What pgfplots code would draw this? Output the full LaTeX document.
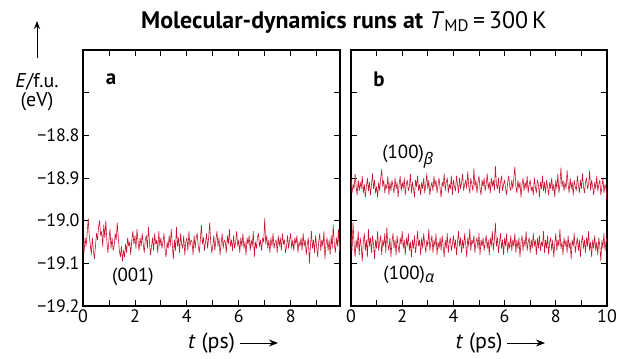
\documentclass[border=0pt]{standalone}
\usepackage{fontspec}
\setmainfont{PT Sans}
\newfontfamily\grk{Open Sans}
\usepackage{pgfplots}
\usepackage{pgfplotstable}
\pgfplotsset{compat=1.18}
\usetikzlibrary{arrows.meta}
\definecolor{mdred}{RGB}{200,22,48}

\pgfplotstableread{
t a beta alpha
0.00 -19.045 -18.900 -19.030
0.04 -19.075 -18.935 -19.070
0.08 -19.040 -18.915 -19.005
0.12 -19.060 -18.925 -19.055
0.16 -19.030 -18.890 -19.085
0.20 -18.995 -18.920 -19.045
0.24 -19.035 -18.940 -19.065
0.28 -19.055 -18.905 -19.025
0.32 -19.080 -18.930 -19.080
0.36 -19.040 -18.910 -19.040
0.40 -19.070 -18.925 -19.060
0.44 -19.090 -18.895 -19.095
0.48 -19.060 -18.935 -19.050
0.52 -19.030 -18.915 -19.030
0.56 -19.045 -18.945 -19.070
0.60 -19.015 -18.920 -19.045
0.64 -19.000 -18.900 -19.085
0.68 -19.035 -18.930 -19.020
0.72 -19.025 -18.910 -19.060
0.76 -19.060 -18.940 -19.040
0.80 -19.010 -18.915 -19.075
0.84 -19.040 -18.890 -19.035
0.88 -19.000 -18.925 -19.055
0.92 -19.050 -18.905 -19.090
0.96 -19.075 -18.935 -19.045
1.00 -19.045 -18.920 -19.065
1.04 -19.020 -18.945 -19.025
1.08 -19.065 -18.910 -19.070
1.12 -19.040 -18.930 -19.050
1.16 -19.070 -18.900 -19.035
1.20 -19.060 -18.880 -19.080
1.24 -19.030 -18.920 -19.045
1.28 -19.045 -18.905 -19.060
1.32 -19.005 -18.935 -19.030
1.36 -19.040 -18.915 -19.075
1.40 -19.070 -18.925 -19.015
1.44 -19.085 -18.895 -19.055
1.48 -19.060 -18.940 -19.070
1.52 -19.095 -18.910 -19.040
1.56 -19.070 -18.930 -19.085
1.60 -19.085 -18.905 -19.050
1.64 -19.055 -18.920 -19.030
1.68 -19.075 -18.935 -19.065
1.72 -19.040 -18.900 -19.045
1.76 -19.060 -18.925 -19.080
1.80 -19.050 -18.910 -19.035
1.84 -19.080 -18.945 -19.060
1.88 -19.045 -18.915 -19.075
1.92 -19.025 -18.895 -19.040
1.96 -19.055 -18.930 -19.055
2.00 -19.035 -18.910 -19.025
2.04 -19.065 -18.925 -19.065
2.08 -19.020 -18.900 -19.045
2.12 -19.050 -18.940 -19.080
2.16 -19.070 -18.915 -19.040
2.20 -19.040 -18.905 -19.060
2.24 -19.060 -18.930 -19.030
2.28 -19.030 -18.920 -19.070
2.32 -19.055 -18.890 -19.050
2.36 -19.075 -18.935 -19.085
2.40 -19.045 -18.910 -19.045
2.44 -19.035 -18.925 -19.065
2.48 -19.065 -18.945 -19.035
2.52 -19.015 -18.905 -19.075
2.56 -19.050 -18.920 -19.055
2.60 -19.080 -18.895 -19.025
2.64 -19.060 -18.930 -19.060
2.68 -19.040 -18.915 -19.045
2.72 -19.070 -18.940 -19.080
2.76 -19.030 -18.910 -19.040
2.80 -19.055 -18.925 -19.065
2.84 -19.045 -18.900 -19.030
2.88 -19.075 -18.935 -19.055
2.92 -19.025 -18.915 -19.075
2.96 -19.060 -18.890 -19.045
3.00 -19.040 -18.925 -19.060
3.04 -19.065 -18.905 -19.020
3.08 -19.050 -18.940 -19.070
3.12 -19.030 -18.920 -19.050
3.16 -19.070 -18.910 -19.035
3.20 -19.085 -18.930 -19.075
3.24 -19.050 -18.895 -19.045
3.28 -19.065 -18.920 -19.060
3.32 -19.035 -18.905 -19.030
3.36 -19.060 -18.935 -19.080
3.40 -19.020 -18.915 -19.050
3.44 -19.055 -18.900 -19.065
3.48 -19.090 -18.925 -19.040
3.52 -19.045 -18.945 -19.070
3.56 -19.070 -18.910 -19.035
3.60 -19.015 -18.920 -19.060
3.64 -19.060 -18.890 -19.085
3.68 -19.040 -18.930 -19.045
3.72 -19.075 -18.910 -19.065
3.76 -19.030 -18.900 -19.030
3.80 -19.055 -18.935 -19.075
3.84 -19.065 -18.915 -19.050
3.88 -19.035 -18.925 -19.040
3.92 -19.080 -18.895 -19.070
3.96 -19.050 -18.940 -19.055
4.00 -19.040 -18.905 -19.035
4.04 -19.070 -18.920 -19.065
4.08 -19.025 -18.930 -19.045
4.12 -19.060 -18.895 -19.080
4.16 -19.045 -18.915 -19.050
4.20 -19.050 -18.935 -19.025
4.24 -19.080 -18.900 -19.060
4.28 -19.035 -18.925 -19.040
4.32 -19.065 -18.910 -19.075
4.36 -19.040 -18.890 -19.045
4.40 -19.030 -18.930 -19.065
4.44 -19.060 -18.915 -19.030
4.48 -19.075 -18.905 -19.055
4.52 -19.045 -18.925 -19.085
4.56 -19.010 -18.885 -19.040
4.60 -19.055 -18.920 -19.060
4.64 -19.040 -18.935 -19.020
4.68 -19.070 -18.900 -19.070
4.72 -19.050 -18.915 -19.045
4.76 -19.030 -18.930 -19.055
4.80 -19.065 -18.878 -19.035
4.84 -19.040 -18.920 -19.075
4.88 -19.005 -18.905 -19.050
4.92 -19.050 -18.935 -19.040
4.96 -19.075 -18.910 -19.065
5.00 -19.060 -18.895 -19.030
5.04 -19.035 -18.925 -19.080
5.08 -19.070 -18.940 -19.045
5.12 -19.045 -18.905 -19.060
5.16 -19.025 -18.920 -19.040
5.20 -19.060 -18.900 -19.070
5.24 -19.040 -18.930 -19.050
5.28 -19.080 -18.915 -19.035
5.32 -19.055 -18.890 -19.065
5.36 -19.030 -18.925 -19.045
5.40 -19.065 -18.910 -19.080
5.44 -19.045 -18.935 -19.040
5.48 -19.050 -18.900 -19.060
5.52 -19.075 -18.920 -19.025
5.56 -19.035 -18.905 -19.070
5.60 -19.055 -18.930 -19.045
5.64 -19.020 -18.872 -19.005
5.68 -19.060 -18.915 -19.060
5.72 -19.045 -18.925 -19.040
5.76 -19.070 -18.900 -19.075
5.80 -19.035 -18.935 -19.050
5.84 -19.065 -18.910 -19.030
5.88 -19.050 -18.895 -19.065
5.92 -19.025 -18.930 -19.045
5.96 -19.060 -18.915 -19.080
6.00 -19.045 -18.905 -19.040
6.04 -19.075 -18.925 -19.060
6.08 -19.040 -18.940 -19.030
6.12 -19.060 -18.910 -19.075
6.16 -19.030 -18.895 -19.050
6.20 -19.065 -18.920 -19.065
6.24 -19.050 -18.930 -19.035
6.28 -19.080 -18.905 -19.070
6.32 -19.040 -18.925 -19.045
6.36 -19.055 -18.900 -19.060
6.40 -19.035 -18.874 -19.030
6.44 -19.070 -18.920 -19.075
6.48 -19.045 -18.935 -19.045
6.52 -19.060 -18.905 -19.065
6.56 -19.025 -18.925 -19.040
6.60 -19.085 -18.910 -19.085
6.64 -19.050 -18.945 -19.050
6.68 -19.065 -18.915 -19.035
6.72 -19.040 -18.900 -19.070
6.76 -19.030 -18.930 -19.045
6.80 -19.060 -18.910 -19.060
6.84 -19.045 -18.925 -19.025
6.88 -19.070 -18.895 -19.070
6.92 -19.040 -18.935 -19.050
6.96 -19.050 -18.915 -19.040
7.00 -18.995 -18.905 -19.075
7.04 -19.055 -18.930 -19.045
7.08 -19.035 -18.920 -19.065
7.12 -19.065 -18.940 -19.030
7.16 -19.045 -18.900 -19.060
7.20 -19.075 -18.920 -19.045
7.24 -19.040 -18.935 -19.080
7.28 -19.060 -18.905 -19.040
7.32 -19.030 -18.915 -19.065
7.36 -19.065 -18.945 -19.035
7.40 -19.050 -18.910 -19.070
7.44 -19.045 -18.925 -19.050
7.48 -19.075 -18.895 -19.060
7.52 -19.035 -18.930 -19.025
7.56 -19.060 -18.910 -19.075
7.60 -19.040 -18.935 -19.045
7.64 -19.070 -18.905 -19.065
7.68 -19.030 -18.920 -19.035
7.72 -19.055 -18.940 -19.080
7.76 -19.045 -18.910 -19.050
7.80 -19.075 -18.925 -19.040
7.84 -19.060 -18.900 -19.070
7.88 -19.035 -18.930 -19.045
7.92 -19.065 -18.915 -19.085
7.96 -19.045 -18.945 -19.055
8.00 -19.030 -18.905 -19.030
8.04 -19.065 -18.925 -19.070
8.08 -19.045 -18.890 -19.045
8.12 -19.070 -18.935 -19.060
8.16 -19.040 -18.915 -19.020
8.20 -19.055 -18.876 -19.065
8.24 -19.035 -18.920 -19.050
8.28 -19.075 -18.905 -19.080
8.32 -19.050 -18.930 -19.040
8.36 -19.060 -18.910 -19.060
8.40 -19.040 -18.925 -19.045
8.44 -19.070 -18.882 -19.075
8.48 -19.030 -18.915 -19.035
8.52 -19.060 -18.935 -19.065
8.56 -19.045 -18.900 -19.050
8.60 -19.080 -18.925 -19.090
8.64 -19.055 -18.910 -19.045
8.68 -19.040 -18.940 -19.060
8.72 -19.100 -18.905 -19.030
8.76 -19.060 -18.920 -19.075
8.80 -19.025 -18.930 -19.055
8.84 -19.065 -18.895 -19.040
8.88 -19.045 -18.915 -19.070
8.92 -19.075 -18.935 -19.045
8.96 -19.035 -18.905 -19.085
9.00 -19.060 -18.925 -19.050
9.04 -19.085 -18.890 -19.035
9.08 -19.050 -18.920 -19.065
9.12 -19.030 -18.935 -19.045
9.16 -19.070 -18.910 -19.075
9.20 -19.045 -18.900 -19.040
9.24 -19.060 -18.925 -19.060
9.28 -19.025 -18.915 -19.025
9.32 -19.090 -18.884 -19.070
9.36 -19.055 -18.930 -19.050
9.40 -19.040 -18.905 -19.085
9.44 -19.070 -18.920 -19.045
9.48 -19.045 -18.940 -19.065
9.52 -19.080 -18.910 -19.035
9.56 -19.035 -18.925 -19.070
9.60 -19.065 -18.895 -19.050
9.64 -19.010 -18.930 -19.080
9.68 -19.055 -18.915 -19.040
9.72 -19.075 -18.905 -19.060
9.76 -19.040 -18.940 -19.095
9.80 -19.060 -18.920 -19.045
9.84 -19.020 -18.900 -19.065
9.88 -19.070 -18.935 -19.030
9.92 -19.045 -18.915 -19.070
9.96 -19.055 -18.925 -19.050
10.00 -19.040 -18.950 -19.040
}\mddata

\pgfplotsset{
  mdax/.style={
    anchor=south west,
    scale only axis,
    height=256bp,
    ymin=-19.2, ymax=-18.6,
    ytick={-19.2,-19.1,-19.0,-18.9,-18.8,-18.7,-18.6},
    xtick={0,2,4,6,8,10},
    minor xtick={1,3,5,7,9},
    xmin=0,
    tick align=inside,
    major tick length=6bp,
    minor tick length=6bp,
    every tick/.style={black, line width=0.8pt},
    every minor tick/.style={black, line width=0.8pt},
    axis line style={line width=1.2pt},
    tick label style={font=\fontsize{18}{20}\selectfont},
    /pgf/number format/assume math mode=true,
    clip=true,
  },
  mdline/.style={mdred, line width=0.6pt, line join=round, line cap=round},
}

\begin{document}
\begin{tikzpicture}[x=1bp,y=1bp]
\useasboundingbox (0,0) rectangle (618,358);
\begin{axis}[mdax, at={(83bp,52bp)}, width=257bp, xmax=9.9,
  yticklabels={−19.2,−19.1,−19.0,−18.9,−18.8,,},
  xticklabels={0,2,4,6,8,10}]
  \addplot[mdline] table[x=t, y=a] {\mddata};
\end{axis}
\begin{axis}[mdax, at={(351bp,52bp)}, width=256bp, xmax=10,
  yticklabels={},
  xticklabels={0,2,4,6,8,10}]
  \addplot[mdline] table[x=t, y=beta] {\mddata};
  \addplot[mdline] table[x=t, y=alpha] {\mddata};
\end{axis}
% title
\node[font=\fontsize{24}{26}\selectfont] at (344,336) {\textbf{Molecular-dynamics runs at} \textit{T}\textsubscript{MD}\,=\,300\,K};
% y label
\draw[-{Stealth[length=8bp,width=6bp]}, line width=0.9pt] (37,300) -- (37,337);
\node[font=\fontsize{20}{22}\selectfont] at (37,276) {\textit{E}/f.u.};
\node[font=\fontsize{20}{22}\selectfont] at (37,256) {(eV)};
% x labels
\node[font=\fontsize{22}{24}\selectfont] at (211.5,15) {\textit{t} (ps)};
\draw[-{Stealth[length=9bp,width=7bp]}, line width=0.9pt] (240,15) -- (278,15);
\node[font=\fontsize{22}{24}\selectfont] at (479,15) {\textit{t} (ps)};
\draw[-{Stealth[length=9bp,width=7bp]}, line width=0.9pt] (507,15) -- (545,15);
% panel letters
\node[font=\bfseries\fontsize{21}{23}\selectfont] at (111,279) {a};
\node[font=\bfseries\fontsize{21}{23}\selectfont] at (379,279) {b};
% series labels
\node[font=\fontsize{19}{21}\selectfont] at (133,81) {(001)};
\node[font=\fontsize{19}{21}\selectfont] at (408,201) {(100)\textsubscript{\grk\itshape\fontsize{16}{18}\selectfont β}};
\node[font=\fontsize{19}{21}\selectfont] at (409,83) {(100)\textsubscript{\grk\itshape\fontsize{16}{18}\selectfont α}};
\end{tikzpicture}
\end{document}
